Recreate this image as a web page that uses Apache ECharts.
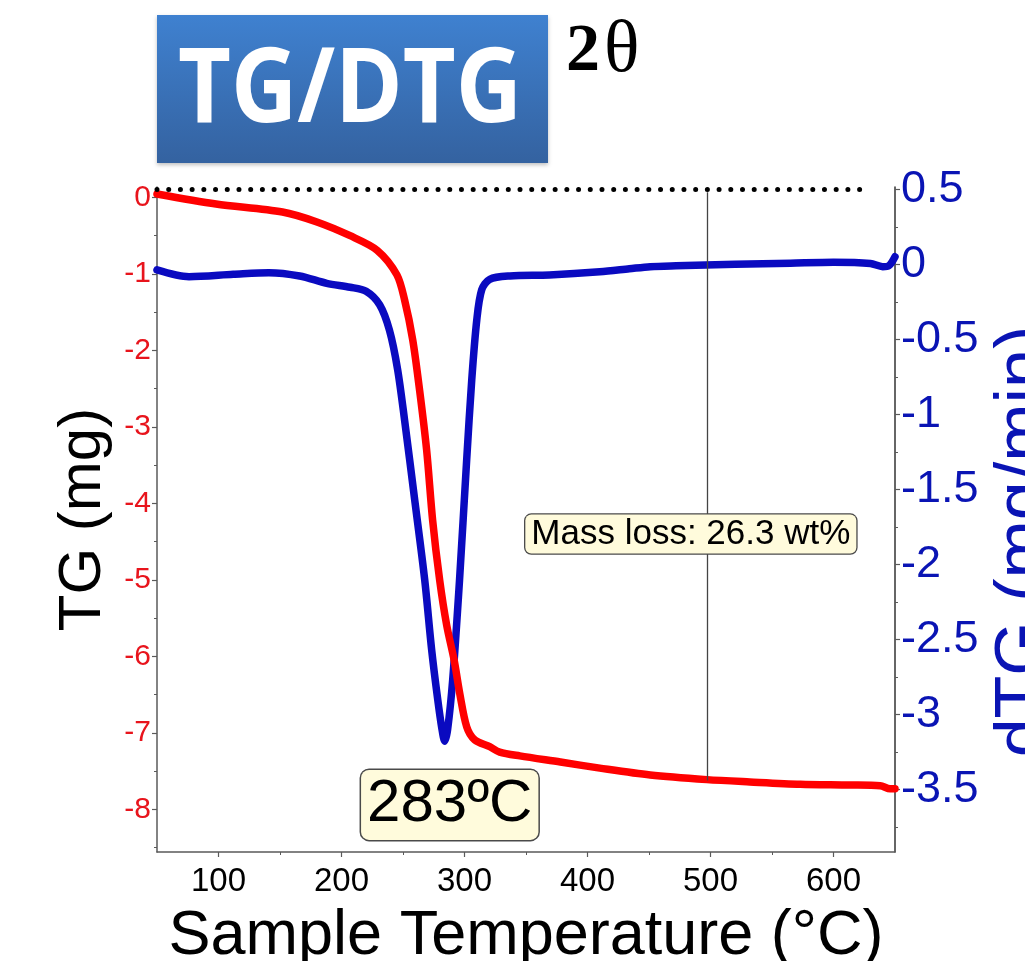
<!DOCTYPE html>
<html><head><meta charset="utf-8">
<script src="https://cdn.jsdelivr.net/npm/echarts@6/dist/echarts.min.js"></script>
<style>html,body{margin:0;padding:0;background:#fff}#c{width:1025px;height:961px}</style>
</head><body><div id="c"></div>
<script>
// ---- data ----
const tgTemps  = [50, 98, 152, 180, 207, 229, 245, 251.3, 257.9, 263.5, 269.2, 274.1, 279.8, 285.5, 291.6, 296.1, 301.8, 308.3, 320.5, 328.6, 345, 378, 410, 451, 497, 532, 573, 613, 638, 646, 650];
const tgValues = [0.046, -0.085, -0.19, -0.32, -0.50, -0.69, -1.01, -1.34, -1.86, -2.52, -3.30, -4.22, -5.00, -5.59, -6.05, -6.48, -6.92, -7.09, -7.18, -7.25, -7.30, -7.38, -7.46, -7.55, -7.61, -7.64, -7.67, -7.68, -7.69, -7.73, -7.73];
const dtgTemps  = [50, 76, 112, 141, 166, 188, 207, 220, 231, 239, 245.6, 251.3, 259.5, 267.6, 273.3, 278.2, 281.5, 283.9, 286.3, 290.4, 296, 301.8, 305.9, 310, 314, 320.5, 337, 369, 410, 434, 451, 472, 520, 565, 600, 630, 640, 645, 650];
const dtgValues = [-0.038, -0.083, -0.067, -0.056, -0.078, -0.127, -0.153, -0.18, -0.27, -0.44, -0.70, -1.04, -1.57, -2.10, -2.57, -2.90, -3.09, -3.18, -3.10, -2.77, -2.10, -1.30, -0.77, -0.37, -0.17, -0.10, -0.078, -0.071, -0.05, -0.03, -0.016, -0.01, 0, 0.007, 0.013, 0.005, -0.016, -0.01, 0.05];
const xTicks   = [100, 200, 300, 400, 500, 600];
const xMinor   = [150, 250, 350, 450, 550];
const tgTicks  = [0, -1, -2, -3, -4, -5, -6, -7, -8];
const tgMinor  = [-0.5, -1.5, -2.5, -3.5, -4.5, -5.5, -6.5, -7.5, -8.5];
const dtgTicks = [0.5, 0, -0.5, -1, -1.5, -2, -2.5, -3, -3.5];
const dtgMinor = [0.25, -0.25, -0.75, -1.25, -1.75, -2.25, -2.75, -3.25, -3.75];
const peakText = '283ºC';
const lossTemp = 497;
const lossEnd = -7.62;
const lossText = 'Mass loss: 26.3 wt%';
const titleText = 'TG/DTG';

const tgData  = tgTemps.map((t, i) => [t, tgValues[i]]);
const dtgData = dtgTemps.map((t, i) => [t, dtgValues[i]]);

const FONT = 'Liberation Sans, Arial, sans-serif';
const axisCol = '#5a5a5a';
const X_MIN = 50, X_MAX = 650;
const TG_MIN = -8.556, TG_MAX = 0.137;
const DTG_MIN = -3.918, DTG_MAX = 0.515;

const chart = echarts.init(document.getElementById('c'), null, {renderer: 'canvas'});
chart.setOption({
  animation: false,
  backgroundColor: '#fff',
  grid: {left: 157, right: 130, top: 187, bottom: 109, containLabel: false, outerBoundsMode: 'none'},
  xAxis: [{
    type: 'value', min: X_MIN, max: X_MAX, position: 'bottom',
    axisLine: {show: true, onZero: false, lineStyle: {color: axisCol, width: 1.5}},
    axisTick: {show: true, customValues: xTicks, length: 5, lineStyle: {color: axisCol, width: 1.2}},
    axisLabel: {customValues: xTicks, fontSize: 33, color: '#000', fontFamily: FONT, margin: 13},
    splitLine: {show: false},
    name: 'Sample Temperature (°C)', nameLocation: 'middle', nameGap: 53,
    nameTextStyle: {fontSize: 63, color: '#000', fontFamily: FONT}
  }, {
    type: 'value', min: X_MIN, max: X_MAX, position: 'bottom',
    axisLine: {show: false, onZero: false},
    axisTick: {show: true, customValues: xMinor, length: 3, lineStyle: {color: axisCol, width: 1}},
    axisLabel: {show: false}, splitLine: {show: false}
  }],
  yAxis: [{
    type: 'value', min: TG_MIN, max: TG_MAX, position: 'left',
    axisLine: {show: true, onZero: false, lineStyle: {color: axisCol, width: 1.5}},
    axisTick: {show: true, customValues: tgTicks, length: 5, lineStyle: {color: axisCol, width: 1.2}},
    axisLabel: {customValues: tgTicks, fontSize: 30, color: '#e8141c', fontFamily: FONT, margin: 6},
    splitLine: {show: false},
    name: 'TG (mg)', nameLocation: 'middle', nameGap: 37, nameRotate: 90,
    nameTextStyle: {fontSize: 60, color: '#000', fontFamily: FONT}
  }, {
    type: 'value', min: DTG_MIN, max: DTG_MAX, position: 'right',
    axisLine: {show: true, onZero: false, lineStyle: {color: '#333', width: 1.5}},
    axisTick: {show: true, customValues: dtgTicks, length: 5, lineStyle: {color: axisCol, width: 1.2}},
    axisLabel: {customValues: dtgTicks, fontSize: 45, color: '#0a14b4', fontFamily: FONT, margin: 6},
    splitLine: {show: false},
    name: 'dTG (mg/min)', nameLocation: 'middle', nameGap: 92, nameRotate: 90,
    nameTextStyle: {fontSize: 70, color: '#0a14b4', fontFamily: FONT, padding: [0, 44, 0, 0]}
  }, {
    type: 'value', min: TG_MIN, max: TG_MAX, position: 'left',
    axisLine: {show: false, onZero: false},
    axisTick: {show: true, customValues: tgMinor, length: 3, lineStyle: {color: axisCol, width: 1}},
    axisLabel: {show: false}, splitLine: {show: false}
  }, {
    type: 'value', min: DTG_MIN, max: DTG_MAX, position: 'right',
    axisLine: {show: false, onZero: false},
    axisTick: {show: true, customValues: dtgMinor, length: 3, lineStyle: {color: axisCol, width: 1}},
    axisLabel: {show: false}, splitLine: {show: false}
  }],
  series: [{
    name: 'DTG', type: 'line', xAxisIndex: 0, yAxisIndex: 1, data: dtgData,
    showSymbol: false, symbol: 'none', smooth: 0.3,
    lineStyle: {color: '#0a0ac0', width: 7.5, cap: 'round', join: 'round'},
    z: 3, silent: true, clip: false
  }, {
    name: 'TG', type: 'line', xAxisIndex: 0, yAxisIndex: 0, data: tgData,
    showSymbol: false, symbol: 'none', smooth: 0.3,
    lineStyle: {color: '#ff0000', width: 7.5, cap: 'round', join: 'round'},
    z: 4, silent: true, clip: false,
    markLine: {
      silent: true, symbol: 'none', animation: false,
      data: [
        [{coord: [X_MIN, 0.105], lineStyle: {color: '#000', width: 5, type: [0.01, 11.7], cap: 'round'}},
         {coord: [624, 0.105]}],
        [{coord: [lossTemp, 0.07], lineStyle: {color: '#444', width: 1.3, type: 'solid'}},
         {coord: [lossTemp, lossEnd]}]
      ],
      label: {show: false}
    },
    markPoint: {
      silent: true, animation: false,
      data: [{
        coord: [288, -7.94], symbol: 'rect', symbolSize: 0,
        label: {show: true, position: 'inside', formatter: peakText, fontSize: 60, lineHeight: 64,
          fontFamily: FONT, color: '#000', backgroundColor: '#fffbdc', borderColor: '#4a4a4a',
          borderWidth: 1.5, borderRadius: 8, padding: [4, 6, 2, 6]}
      }, {
        coord: [484, -4.40], symbol: 'rect', symbolSize: 0,
        label: {show: true, position: 'inside', formatter: lossText, fontSize: 35, lineHeight: 36,
          fontFamily: FONT, color: '#000', backgroundColor: '#fffbdc', borderColor: '#4a4a4a',
          borderWidth: 1.3, borderRadius: 6, padding: [2, 6, 1, 6]}
      }]
    }
  }],
  graphic: [{
    type: 'rect', left: 157, top: 15, z: 10,
    shape: {width: 391, height: 148},
    style: {
      fill: new echarts.graphic.LinearGradient(0, 0, 0, 1, [
        {offset: 0, color: '#3f81d0'}, {offset: 1, color: '#3462a0'}]),
      shadowBlur: 4, shadowColor: 'rgba(0,0,0,0.25)', shadowOffsetY: 2
    }
  }, {
    type: 'text', x: 350, y: 92, z: 11, scaleX: 0.88,
    style: {text: titleText, fill: '#fff', font: '700 104px "Open Sans", sans-serif',
      textAlign: 'center', textVerticalAlign: 'middle'}
  }, {
    type: 'text', x: 566, y: 52, z: 11,
    style: {text: '{b|2}{n|θ}', textAlign: 'left', textVerticalAlign: 'middle',
      rich: {b: {font: 'bold 68px "Liberation Serif", serif', fill: '#000'},
             n: {font: '74px "Liberation Serif", serif', fill: '#000', padding: [0, 0, 0, 4]}}}
  }]
});
</script>
</body></html>
